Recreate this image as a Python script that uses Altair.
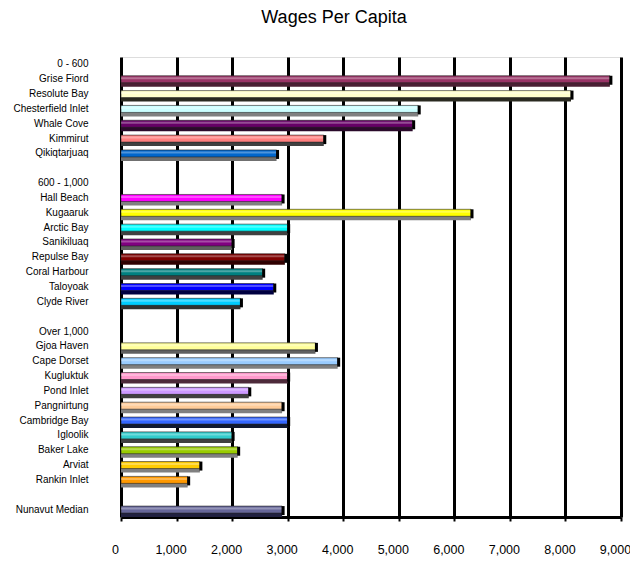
import altair as alt
import pandas as pd

# Row order on the y axis (group headers and blank spacer rows included)
rows = ["0 - 600", "Grise Fiord", "Resolute Bay", "Chesterfield Inlet", "Whale Cove",
        "Kimmirut", "Qikiqtarjuaq", " ",
        "600 - 1,000", "Hall Beach", "Kugaaruk", "Arctic Bay", "Sanikiluaq",
        "Repulse Bay", "Coral Harbour", "Taloyoak", "Clyde River", "  ",
        "Over 1,000", "Gjoa Haven", "Cape Dorset", "Kugluktuk", "Pond Inlet",
        "Pangnirtung", "Cambridge Bay", "Igloolik", "Baker Lake", "Arviat",
        "Rankin Inlet", "   ", "Nunavut Median"]

communities = ["Grise Fiord", "Resolute Bay", "Chesterfield Inlet", "Whale Cove",
               "Kimmirut", "Qikiqtarjuaq",
               "Hall Beach", "Kugaaruk", "Arctic Bay", "Sanikiluaq", "Repulse Bay",
               "Coral Harbour", "Taloyoak", "Clyde River",
               "Gjoa Haven", "Cape Dorset", "Kugluktuk", "Pond Inlet", "Pangnirtung",
               "Cambridge Bay", "Igloolik", "Baker Lake", "Arviat", "Rankin Inlet",
               "Nunavut Median"]

wages = [8800, 8100, 5350, 5250, 3650, 2800,
         2900, 6300, 3000, 2000, 2950, 2550, 2750, 2150,
         3500, 3900, 3000, 2300, 2900, 3000, 2000, 2100, 1420, 1200,
         2900]

colors = ["#993366", "#FFFFCC", "#CCFFFF", "#660066", "#FF8080", "#0066CC",
          "#FF00FF", "#FFFF00", "#00FFFF", "#800080", "#800000", "#008080",
          "#0000FF", "#00CCFF",
          "#FFFF99", "#99CCFF", "#FF99CC", "#CC99FF", "#FFCC99", "#3366FF",
          "#33CCCC", "#99CC00", "#FFCC00", "#FF9900",
          "#666699"]

shadows = ["#4a1f33", "#2a2a20", "#808080", "#2a0a2a", "#404040", "#707070",
           "#808080", "#808080", "#404040", "#606060", "#300000", "#404040",
           "#000040", "#303030",
           "#606060", "#808080", "#4d2a3a", "#404040", "#808080", "#101830",
           "#404040", "#808080", "#808080", "#808080",
           "#202040"]

ticks = [0, 1000, 2000, 3000, 4000, 5000, 6000, 7000, 8000, 9000]

df = pd.DataFrame({"community": communities, "wage": wages,
                   "color": colors, "shadow": shadows})

yenc = alt.Y("community:N", scale=alt.Scale(domain=rows, paddingInner=0, paddingOuter=0),
             axis=alt.Axis(title=None, ticks=False, domain=False, grid=False,
                           labelFont="Liberation Sans", labelFontSize=10,
                           labelColor="#000000", labelPadding=33))
xenc = alt.X("wage:Q", scale=alt.Scale(domain=[0, 9000], nice=False, zero=True),
             axis=alt.Axis(title=None, values=ticks, format=",d", grid=True,
                           gridColor="#000000", gridWidth=3, gridOpacity=1,
                           domainColor="#000000", domainWidth=3,
                           tickColor="#000000", tickSize=4, tickWidth=2,
                           labelFont="Liberation Sans", labelFontSize=12.5,
                           labelColor="#000000", labelPadding=22, labelOffset=-6,
                           labelFlush=False))

base = alt.Chart(df)

shadow = base.mark_bar(size=5, yOffset=5, x2Offset=2).encode(
    x=xenc, y=yenc, color=alt.Color("shadow:N", scale=None))
face = base.mark_bar(size=7, stroke="#222222", strokeWidth=0.6).encode(
    x=xenc, y=yenc, color=alt.Color("color:N", scale=None))
shine = base.mark_bar(size=2, yOffset=-1, color="#ffffff", opacity=0.3).encode(
    x=xenc, y=yenc)
cap = base.mark_tick(size=9, thickness=3, color="#000000", xOffset=1, yOffset=1, opacity=1).encode(
    x=xenc, y=yenc)

chart = alt.layer(shadow, face, shine, cap).properties(
    width=500, height=460,
    title=alt.TitleParams("Wages Per Capita", font="Liberation Sans", fontSize=18,
                          fontWeight="normal", color="#000000", anchor="middle",
                          dx=-37, offset=30),
    autosize=alt.AutoSizeParams(type="none"),
    padding={"left": 113, "top": 49, "right": 9, "bottom": 40},
).configure_view(strokeWidth=0).configure(background="#ffffff")

chart.save("out.html", embed_options={"renderer": "svg", "actions": False})
